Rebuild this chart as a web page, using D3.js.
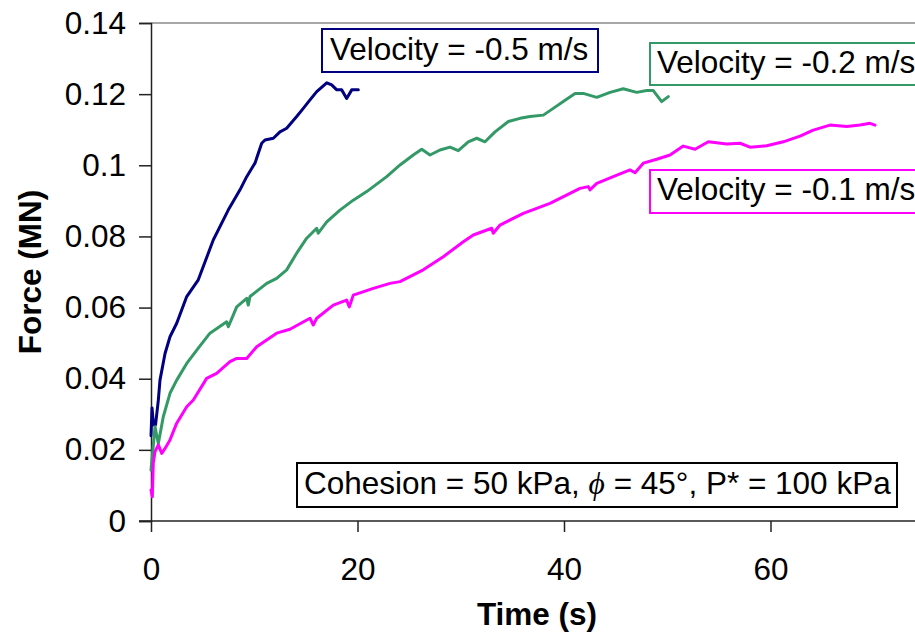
<!DOCTYPE html>
<html>
<head>
<meta charset="utf-8">
<script src="https://cdn.jsdelivr.net/npm/d3@7"></script>
<style>
  html, body { margin: 0; padding: 0; background: #fff; }
  svg { display: block; }
  text { font-family: "Liberation Sans", Arial, sans-serif; }
</style>
</head>
<body>
<svg id="chart" width="915" height="634"></svg>
<script>
// ---------- data ----------
const xTicks = [0, 20, 40, 60];
const yTicks = [0, 0.02, 0.04, 0.06, 0.08, 0.1, 0.12, 0.14];
const yTickLabels = ["0", "0.02", "0.04", "0.06", "0.08", "0.1", "0.12", "0.14"];

// Velocity = -0.5 m/s
const time05 = [0, 0.1, 0.24, 0.44, 0.71, 0.87, 1.36, 1.84, 2.49, 3.46, 4.58, 6.03, 7.48, 8.62, 9.27, 10.07, 10.72, 11.04, 11.85, 12.49, 13.14, 14.11, 14.75, 15.40, 16.05, 17.02, 17.50, 17.99, 18.47, 18.95, 19.44, 20.08];
const force05 = [0.024, 0.0318, 0.027, 0.027, 0.034, 0.0396, 0.0471, 0.0518, 0.0556, 0.0631, 0.0678, 0.0790, 0.0874, 0.0931, 0.0968, 0.1006, 0.1062, 0.1071, 0.1076, 0.1094, 0.1104, 0.1137, 0.1160, 0.1184, 0.1207, 0.1232, 0.1226, 0.1212, 0.1212, 0.1188, 0.1212, 0.1212];

// Velocity = -0.2 m/s
const time02 = [0, 0.39, 0.71, 1.19, 1.84, 2.49, 3.46, 4.58, 5.71, 7.33, 7.49, 8.30, 9.27, 9.42, 9.59, 11.21, 12.17, 13.14, 14.11, 15.08, 16.05, 16.20, 17.02, 18.30, 19.59, 20.89, 22.83, 24.12, 25.40, 26.22, 27.02, 27.99, 28.96, 29.76, 30.73, 31.55, 32.35, 33.32, 34.61, 35.74, 36.71, 38.00, 38.96, 39.93, 41.07, 41.87, 43.17, 44.46, 45.74, 47.04, 48.01, 48.65, 49.46, 50.10];
const force02 = [0.0143, 0.0265, 0.0218, 0.0293, 0.0359, 0.0396, 0.0443, 0.0486, 0.0528, 0.0560, 0.0546, 0.0602, 0.0626, 0.0607, 0.0631, 0.0668, 0.0682, 0.0706, 0.0753, 0.0795, 0.0823, 0.0809, 0.0841, 0.0874, 0.0902, 0.0926, 0.0968, 0.1001, 0.1029, 0.1045, 0.1029, 0.1043, 0.1051, 0.1041, 0.1066, 0.1076, 0.1066, 0.1094, 0.1123, 0.1132, 0.1137, 0.1141, 0.1160, 0.1179, 0.1202, 0.1202, 0.1191, 0.1205, 0.1215, 0.1205, 0.1210, 0.1210, 0.1179, 0.1193];

// Velocity = -0.1 m/s
const time01 = [0, 0.13, 0.22, 0.39, 0.71, 1.04, 1.36, 1.84, 2.49, 3.46, 4.10, 5.39, 6.36, 7.65, 8.30, 9.27, 10.24, 12.17, 13.46, 15.40, 15.72, 16.05, 17.66, 18.95, 19.21, 19.59, 21.53, 23.15, 24.12, 26.37, 28.31, 30.25, 31.22, 33.00, 33.15, 33.80, 36.06, 38.64, 41.55, 42.35, 42.52, 43.17, 44.77, 46.39, 46.88, 47.68, 48.98, 50.27, 51.55, 52.69, 53.98, 55.76, 57.05, 58.02, 59.63, 61.24, 62.86, 64.14, 65.76, 67.38, 68.67, 69.64, 70.12];
const force01 = [0.0087, 0.0068, 0.0162, 0.0195, 0.0214, 0.0190, 0.0204, 0.0228, 0.0275, 0.0321, 0.0340, 0.0401, 0.0415, 0.0448, 0.0457, 0.0457, 0.0490, 0.0528, 0.0539, 0.0570, 0.0551, 0.0570, 0.0607, 0.0621, 0.0602, 0.0635, 0.0654, 0.0668, 0.0673, 0.0706, 0.0743, 0.0785, 0.0804, 0.0823, 0.0809, 0.0832, 0.0865, 0.0893, 0.0935, 0.0940, 0.0931, 0.0949, 0.0968, 0.0987, 0.0979, 0.1006, 0.1017, 0.1029, 0.1054, 0.1045, 0.1066, 0.1060, 0.1062, 0.1051, 0.1055, 0.1066, 0.1082, 0.1099, 0.1113, 0.1109, 0.1113, 0.1118, 0.1113];

const seriesNames = ["Velocity = -0.5 m/s", "Velocity = -0.2 m/s", "Velocity = -0.1 m/s"];
const seriesColors = ["#000080", "#339966", "#FF00FF"];
const noteText = ["Cohesion = 50 kPa, ", "\u03D5", " = 45\u00B0, P* = 100 kPa"];

// ---------- chart ----------
const FS = 31.5;
const svg = d3.select("#chart");
const x = d3.scaleLinear().domain([0, 80]).range([151, 977]);
const y = d3.scaleLinear().domain([0, 0.14]).range([521, 23]);

// plot area border (top visible, right cropped)
svg.append("path")
  .attr("d", `M${x(0)},${y(0.14)}H${x(80)}V${y(0)}`)
  .attr("fill", "none").attr("stroke", "#8c8c8c").attr("stroke-width", 1.5);

// axes
const yAxis = d3.axisLeft(y).tickValues(yTicks)
  .tickFormat((d, i) => yTickLabels[i]).tickSize(12).tickPadding(13);
const gy = svg.append("g").attr("transform", `translate(${x(0)},0)`).call(yAxis);
const xAxis = d3.axisBottom(x).tickValues(xTicks).tickFormat(d3.format("d"))
  .tickSize(11).tickPadding(26);
const gx = svg.append("g").attr("transform", `translate(0,${y(0)})`).call(xAxis);
gx.select(".domain").attr("d", `M${x(0) - 12},0H${x(80)}`);

[gx, gy].forEach(g => {
  g.select(".domain").attr("stroke", "#222").attr("stroke-width", 1.5);
  g.selectAll(".tick line").attr("stroke", "#222").attr("stroke-width", 1.5);
  g.selectAll(".tick text").attr("font-size", FS).attr("fill", "#000")
    .attr("font-family", "Liberation Sans, Arial, sans-serif");
});

// axis titles
svg.append("text").attr("x", 537).attr("y", 625).attr("text-anchor", "middle")
  .attr("font-size", FS).attr("font-weight", "bold").text("Time (s)");
svg.append("text").attr("transform", "translate(41,272) rotate(-90)")
  .attr("text-anchor", "middle").attr("font-size", FS).attr("font-weight", "bold")
  .text("Force (MN)");

// lines
const line = d3.line().x(d => x(d[0])).y(d => y(d[1]));
const seriesData = [
  d3.zip(time05, force05),
  d3.zip(time02, force02),
  d3.zip(time01, force01)
];
seriesData.forEach((data, i) => {
  svg.append("path").datum(data)
    .attr("d", line)
    .attr("fill", "none")
    .attr("stroke", seriesColors[i])
    .attr("stroke-width", 3)
    .attr("stroke-linejoin", "round")
    .attr("stroke-linecap", "round");
});

// series label boxes
const boxes = [
  { x: 322, y: 29, w: 276, h: 43, tx: 330, ty: 60 },
  { x: 650, y: 43, w: 300, h: 42, tx: 657, ty: 73 },
  { x: 650, y: 170, w: 300, h: 43, tx: 657, ty: 200 }
];
boxes.forEach((b, i) => {
  svg.append("rect").attr("x", b.x).attr("y", b.y).attr("width", b.w).attr("height", b.h)
    .attr("fill", "#fff").attr("stroke", seriesColors[i]).attr("stroke-width", 2);
  svg.append("text").attr("x", b.tx).attr("y", b.ty).attr("font-size", FS)
    .attr("fill", "#000").text(seriesNames[i]);
});

// note box
svg.append("rect").attr("x", 297).attr("y", 463).attr("width", 600).attr("height", 44)
  .attr("fill", "#fff").attr("stroke", "#000").attr("stroke-width", 2);
const note = svg.append("text").attr("x", 304).attr("y", 494).attr("font-size", FS).attr("fill", "#000");
note.append("tspan").text(noteText[0]);
note.append("tspan").attr("font-style", "italic")
  .attr("font-family", "Liberation Serif, serif").text(noteText[1]);
note.append("tspan").text(noteText[2]);
</script>
</body>
</html>
